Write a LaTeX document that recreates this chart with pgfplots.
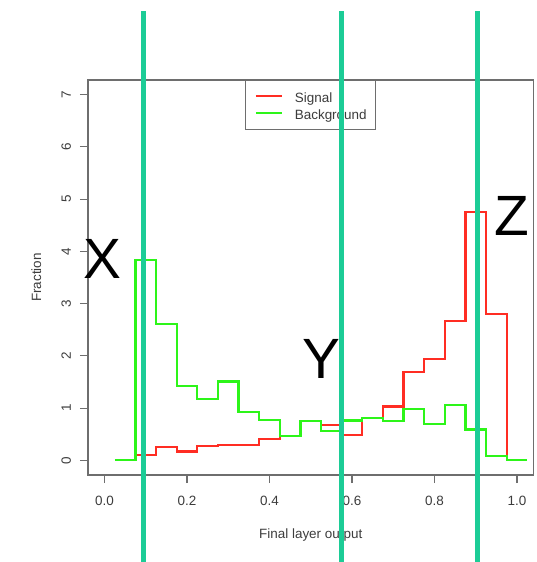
\documentclass[border=0pt]{standalone}
\usepackage{fontspec}
\setmainfont{Liberation Sans}
\usepackage{pgfplots}
\usepackage{pgfplotstable}
\pgfplotsset{compat=1.18}

\definecolor{signalred}{RGB}{255,45,35}
\definecolor{bkggreen}{RGB}{45,245,25}
\definecolor{cutgreen}{RGB}{28,204,150}
\definecolor{framegray}{RGB}{110,110,110}
\definecolor{txtgray}{RGB}{60,60,60}

% left bin edge, height (0.05 wide bins)
\pgfplotstableread{
x     sig   bkg
0.025 0     0
0.075 0.10  3.83
0.125 0.25  2.61
0.175 0.17  1.43
0.225 0.27  1.17
0.275 0.30  1.51
0.325 0.30  0.93
0.375 0.41  0.78
0.425 0.465 0.47
0.475 0.75  0.75
0.525 0.67  0.56
0.575 0.48  0.765
0.625 0.81  0.81
0.675 1.03  0.75
0.725 1.69  0.99
0.775 1.94  0.70
0.825 2.66  1.06
0.875 4.75  0.59
0.925 2.80  0.08
0.975 0     0
1.025 0     0
}\hist

\begin{document}
\begin{tikzpicture}
\useasboundingbox (-88bp,-87bp) rectangle (449bp,475bp);
\begin{axis}[
    scale only axis, width=445.5bp, height=395bp,
    xmin=-0.04, xmax=1.04, ymin=-0.28, ymax=7.28,
    axis line style={framegray, line width=1.1bp},
    tick style={framegray, line width=1.1bp},
    tick align=outside, major tick length=8bp,
    xtick pos=bottom, ytick pos=left,
    xtick={0,0.2,0.4,0.6,0.8,1}, ytick={0,1,2,3,4,5,6,7},
    /pgf/number format/assume math mode=true,
    tick label style={font=\fontsize{13.5}{16}\selectfont, text=txtgray},
    xticklabel style={anchor=base, yshift=-22bp,
        /pgf/number format/.cd, fixed, fixed zerofill, precision=1},
    yticklabel style={xshift=-9bp, rotate=90, anchor=base},
    label style={font=\fontsize{13.5}{16}\selectfont, text=txtgray},
    xlabel={Final layer output},
    ylabel={Fraction},
    xlabel style={at={(axis description cs:0.5,-0.1603)}, anchor=base},
    ylabel style={at={(axis description cs:-0.105,0.5)}, anchor=base},
    legend style={at={(0.5,1)}, anchor=north, draw=framegray, line width=1.1bp,
        fill=white, font=\fontsize{13.5}{16}\selectfont, text=txtgray,
        inner xsep=9bp, inner ysep=10bp, row sep=5.8bp, column sep=12bp,
        nodes={inner sep=0pt, text height=11.7bp, text depth=0pt}},
    legend cell align=left,
    legend image code/.code={\draw[#1, line width=2bp] (0bp,0.5bp) -- (26bp,0.5bp);},
  ]
  \addplot[signalred, line width=2.2bp, const plot] table[x=x, y=sig] {\hist};
  \addplot[bkggreen, line width=2.2bp, const plot] table[x=x, y=bkg] {\hist};
  \legend{Signal, Background}
\end{axis}
\begin{axis}[
    scale only axis, width=445.5bp, height=395bp,
    xmin=-0.04, xmax=1.04, ymin=-0.28, ymax=7.28,
    hide axis, clip=false,
  ]
  \addplot[cutgreen, line width=5bp, forget plot] coordinates {(0.095,-2.0) (0.095,8.604)};
  \addplot[cutgreen, line width=5bp, forget plot] coordinates {(0.574,-2.0) (0.574,8.604)};
  \addplot[cutgreen, line width=5bp, forget plot] coordinates {(0.905,-2.0) (0.905,8.604)};
  \node[font=\fontsize{57}{60}\selectfont] at (axis cs:-0.005,3.86) {X};
  \node[font=\fontsize{57}{60}\selectfont] at (axis cs:0.527,1.95) {Y};
  \node[font=\fontsize{57}{60}\selectfont] at (axis cs:0.988,4.67) {Z};
\end{axis}
\end{tikzpicture}
\end{document}
